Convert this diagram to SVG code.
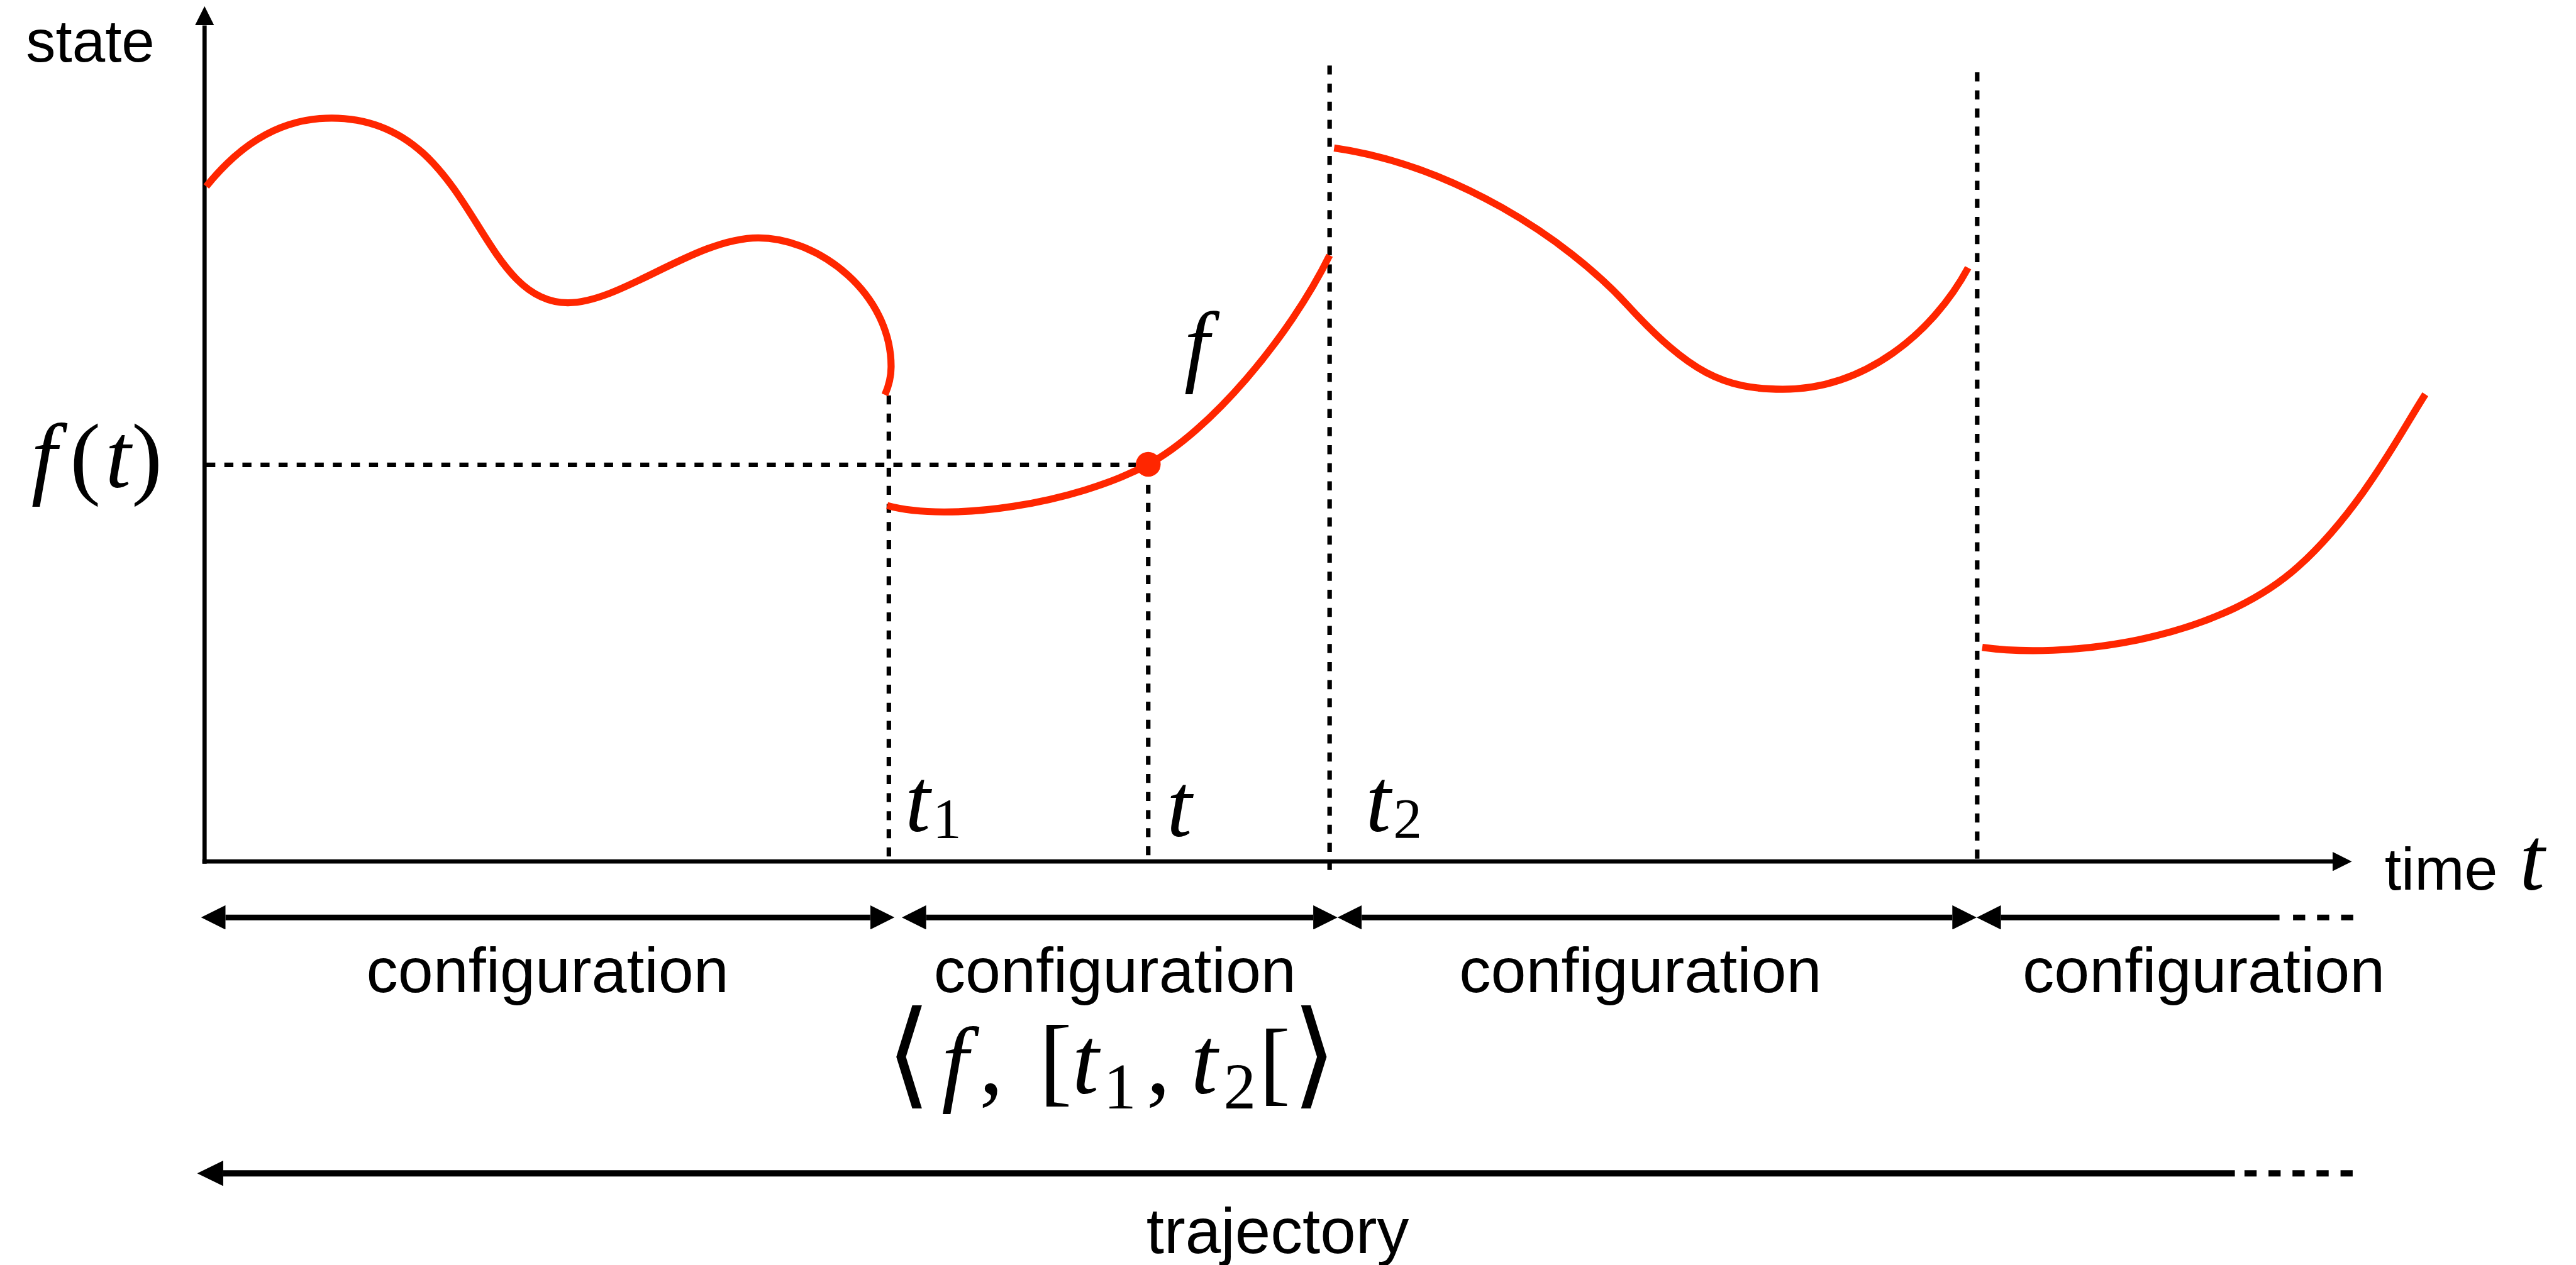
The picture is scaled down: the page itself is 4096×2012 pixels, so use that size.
<svg xmlns="http://www.w3.org/2000/svg" width="4096" height="2012" viewBox="0 0 4096 2012">
<style>
.ax{stroke:#000;stroke-width:7.5;fill:none}
.dot{stroke:#000;stroke-width:8;fill:none;stroke-dasharray:16 16}
.cv{stroke:#ff2600;stroke-width:12.5;fill:none}
.ar{stroke:#000;stroke-width:10;fill:none}
.sans{font-family:"Liberation Sans",Arial,Helvetica,sans-serif;fill:#000}
.mi{font-family:"Liberation Serif","Times New Roman",serif;font-style:italic;fill:#000}
.mr{font-family:"Liberation Serif","Times New Roman",serif;font-style:normal;fill:#000}
.ang{font-family:"DejaVu Sans","DejaVu Serif",sans-serif;font-weight:200;font-style:normal;fill:#000}
</style>
<defs>
<marker id="axh" viewBox="0 0 34 34" markerWidth="34" markerHeight="34" refX="0" refY="17" orient="auto" markerUnits="userSpaceOnUse"><path d="M0,0 L34,17 L0,34 z" fill="#000"/></marker>
<marker id="ah" viewBox="0 0 43 43" markerWidth="43" markerHeight="43" refX="0" refY="21.5" orient="auto-start-reverse" markerUnits="userSpaceOnUse"><path d="M0,0 L43,21.5 L0,43 z" fill="#000"/></marker>
<marker id="th" viewBox="0 0 46 45" markerWidth="46" markerHeight="45" refX="0" refY="22.5" orient="auto-start-reverse" markerUnits="userSpaceOnUse"><path d="M0,0 L46,22.5 L0,45 z" fill="#000"/></marker>
</defs>
<rect width="4096" height="2012" fill="#fff"/>
<g transform="scale(0.8985)">
<g id="axes">
<line class="ax" x1="362" y1="1529" x2="362" y2="45" marker-end="url(#axh)"/>
<line class="ax" x1="358" y1="1525" x2="4128" y2="1525" marker-end="url(#axh)"/>
</g>
<g id="guides">
<line class="dot" x1="365" y1="823" x2="2010" y2="823"/>
<line class="dot" x1="1573" y1="700" x2="1573" y2="1525"/>
<line class="dot" x1="2032" y1="826" x2="2032" y2="1525"/>
<line class="dot" x1="2353" y1="116" x2="2353" y2="1540"/>
<line class="dot" x1="3499" y1="128" x2="3499" y2="1525"/>
</g>
<g id="curves">
<path id="curve1" class="cv" d="M365,330 C415,268 485,209 587,209 C840,209 840,536 1005,536 C1100,536 1230,421 1342,421 C1450,421 1577,520 1577,649 C1577,670 1572,685 1566,699"/>
<path id="curve2" class="cv" d="M1570,895 C1680,925 1900,893 2032,822 C2140,764 2280,600 2353,452"/>
<path id="curve3" class="cv" d="M2361,262 C2570,292 2770,420 2880,540 C2990,660 3050,689 3155,689 C3300,689 3420,590 3483,474"/>
<path id="curve4" class="cv" d="M3508,1146 C3648,1166 3917,1138 4067,1003 C4177,904 4247,768 4292,698"/>
<circle id="point" cx="2032" cy="822" r="22" fill="#ff2600"/>
</g>
<g id="connectors">
<line class="ar" x1="399" y1="1624" x2="1540" y2="1624" marker-start="url(#ah)" marker-end="url(#ah)"/>
<line class="ar" x1="1639" y1="1624" x2="2324" y2="1624" marker-start="url(#ah)" marker-end="url(#ah)"/>
<line class="ar" x1="2410" y1="1624" x2="3455" y2="1624" marker-start="url(#ah)" marker-end="url(#ah)"/>
<line class="ar" x1="3541" y1="1624" x2="4034" y2="1624" marker-start="url(#ah)"/>
<line class="ar" x1="4058" y1="1624" x2="4165" y2="1624" style="stroke-dasharray:21.5 21"/>
<line class="ar" x1="395" y1="2077" x2="3955" y2="2077" style="stroke-width:11" marker-start="url(#th)"/>
<line class="ar" x1="3972" y1="2077" x2="4165" y2="2077" style="stroke-width:11;stroke-dasharray:21.5 21"/>
</g>
<g id="labels">
<text class="sans" x="46" y="109" font-size="105">state</text>
<text class="sans" y="1575"><tspan x="4220" font-size="106">time</tspan><tspan class="mi" x="4481" font-size="160" text-anchor="middle">t</tspan></text>
<text class="mr" y="862" font-size="163"><tspan class="mi" x="78" text-anchor="middle">f</tspan><tspan x="151" text-anchor="middle">(</tspan><tspan class="mi" x="209" text-anchor="middle">t</tspan><tspan x="260" text-anchor="middle">)</tspan></text>
<text class="mi" x="2118" y="663" font-size="160" text-anchor="middle">f</text>
<text class="mi" y="1471" font-size="160"><tspan x="1624" text-anchor="middle">t</tspan><tspan class="mr" x="1676" y="1484" font-size="102" text-anchor="middle">1</tspan></text>
<text class="mi" x="2087" y="1480" font-size="160" text-anchor="middle">t</text>
<text class="mi" y="1471" font-size="160"><tspan x="2439" text-anchor="middle">t</tspan><tspan class="mr" x="2491" y="1484" font-size="102" text-anchor="middle">2</tspan></text>
<text class="sans" x="969" y="1756" font-size="112" text-anchor="middle">configuration</text>
<text class="sans" x="1973" y="1756" font-size="112" text-anchor="middle">configuration</text>
<text class="sans" x="2903" y="1756" font-size="112" text-anchor="middle">configuration</text>
<text class="sans" x="3900" y="1756" font-size="112" text-anchor="middle">configuration</text>
<text class="sans" x="2261" y="2218" font-size="113" text-anchor="middle">trajectory</text>
</g>
<g id="formula">
<text class="mr" y="1936" font-size="170"><tspan class="ang" x="1608" font-size="205" text-anchor="middle">⟨</tspan><tspan class="mi" x="1690" text-anchor="middle">f</tspan><tspan x="1754" text-anchor="middle">,</tspan><tspan x="1868" font-size="175" text-anchor="middle">[</tspan><tspan class="mi" x="1921" text-anchor="middle">t</tspan><tspan x="1982" y="1962" font-size="115" text-anchor="middle">1</tspan><tspan x="2050" y="1936" text-anchor="middle">,</tspan><tspan class="mi" x="2131" text-anchor="middle">t</tspan><tspan x="2194" y="1962" font-size="115" text-anchor="middle">2</tspan><tspan x="2256" y="1936" font-size="165" text-anchor="middle">[</tspan><tspan class="ang" x="2326" font-size="205" text-anchor="middle">⟩</tspan></text>
</g>
</g>
</svg>
